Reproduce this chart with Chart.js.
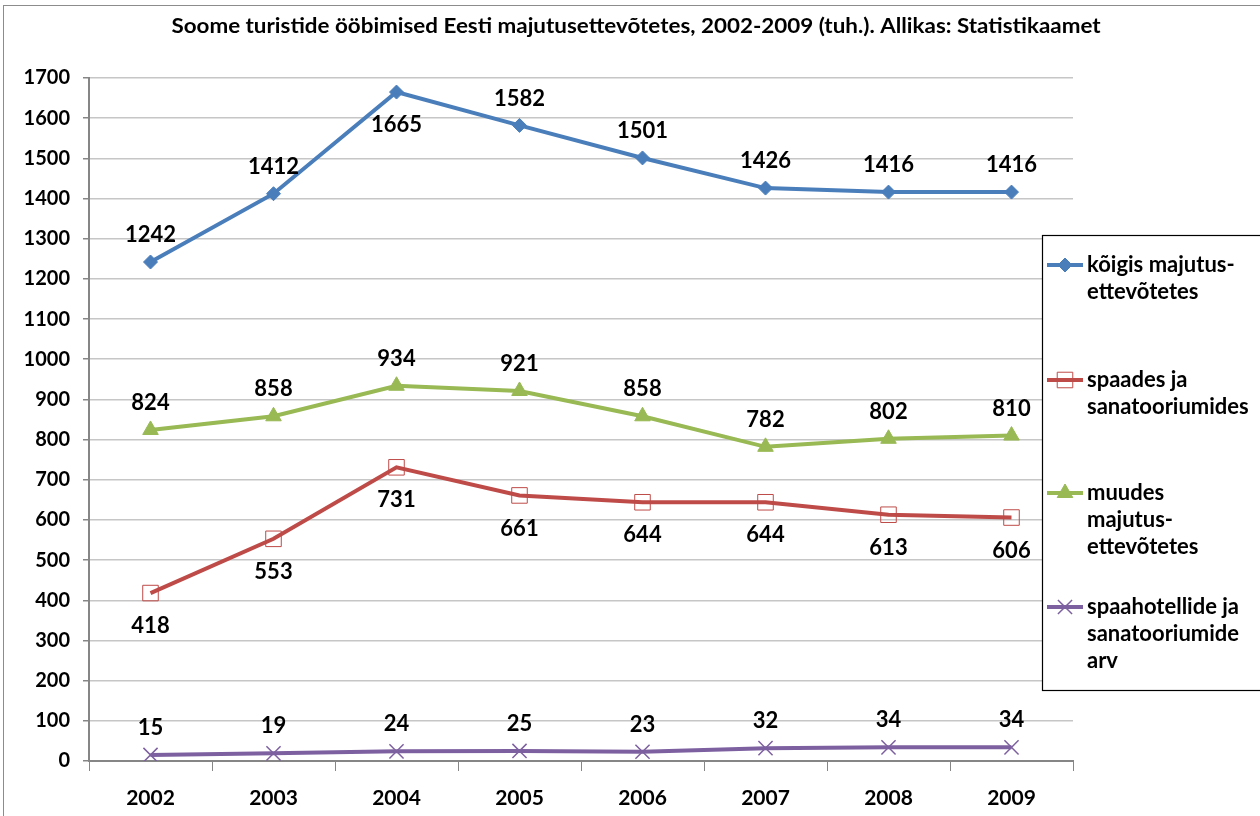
<!DOCTYPE html>
<html>
<head>
<meta charset="utf-8">
<script src="https://cdn.jsdelivr.net/npm/chart.js@4.4.1/dist/chart.umd.min.js"></script>
<style>
  html, body { margin: 0; padding: 0; background: #fff; }
  #wrap { position: relative; width: 1260px; height: 816px; overflow: hidden; }
  #frame { position: absolute; left: 3px; top: 5px; width: 1300px; height: 900px; border: 1.5px solid #8c8c8c; box-sizing: border-box; }
  canvas { position: absolute; left: 0; top: 0; }
</style>
</head>
<body>
<div id="wrap">
  <div id="frame"></div>
  <canvas id="c" width="1260" height="816"></canvas>
</div>
<script>
// andmed
const years = ['2002', '2003', '2004', '2005', '2006', '2007', '2008', '2009'];
const koigis = [1242, 1412, 1665, 1582, 1501, 1426, 1416, 1416];
const spaades = [418, 553, 731, 661, 644, 644, 613, 606];
const muudes = [824, 858, 934, 921, 858, 782, 802, 810];
const spaahotellid = [15, 19, 24, 25, 23, 32, 34, 34];
const yTicks = [0, 100, 200, 300, 400, 500, 600, 700, 800, 900, 1000, 1100, 1200, 1300, 1400, 1500, 1600, 1700];

const titleText = 'Soome turistide ööbimised Eesti majutusettevõtetes, 2002-2009 (tuh.). Allikas: Statistikaamet';
const FONT = 'Lato, "Open Sans", sans-serif';

// kus silt on punkti suhtes: 1 = üleval, -1 = all
const labelPos = [
  [1, 1, -1, 1, 1, 1, 1, 1],
  [-1, -1, -1, -1, -1, -1, -1, -1],
  [1, 1, 1, 1, 1, 1, 1, 1],
  [1, 1, 1, 1, 1, 1, 1, 1]
];

const legendLines = [
  ['kõigis majutus-', 'ettevõtetes'],
  ['spaades ja', 'sanatooriumides'],
  ['muudes', 'majutus-', 'ettevõtetes'],
  ['spaahotellide ja', 'sanatooriumide', 'arv']
];
const legendTop = [265, 380, 493, 607];

const extras = {
  id: 'extras',
  afterDatasetsDraw(chart) {
    const ctx = chart.ctx;
    ctx.save();
    ctx.font = 'bold 22px ' + FONT;
    ctx.fillStyle = '#000';
    ctx.textAlign = 'center';
    ctx.textBaseline = 'middle';
    chart.data.datasets.forEach((ds, i) => {
      chart.getDatasetMeta(i).data.forEach((pt, j) => {
        const up = labelPos[i][j] > 0;
        ctx.fillText(String(ds.data[j]), pt.x, pt.y + (up ? -27 : 33));
      });
    });
    ctx.restore();
  },
  afterDraw(chart) {
    const ctx = chart.ctx;
    ctx.save();
    // pealkiri, veidi kitsendatud nagu Calibri
    ctx.font = 'bold 20px ' + FONT;
    ctx.fillStyle = '#000';
    ctx.textAlign = 'center';
    ctx.textBaseline = 'middle';
    ctx.translate(636, 27);
    ctx.scale(1.12, 1);
    ctx.fillText(titleText, 0, 0);
    ctx.setTransform(1, 0, 0, 1, 0, 0);

    // legend
    ctx.fillStyle = '#fff';
    ctx.fillRect(1042, 235, 230, 455);
    ctx.strokeStyle = '#000';
    ctx.lineWidth = 1.2;
    ctx.strokeRect(1042.5, 235.5, 230, 455);
    chart.data.datasets.forEach((ds, i) => {
      const y = legendTop[i];
      ctx.strokeStyle = ds.borderColor;
      ctx.lineWidth = 4;
      ctx.beginPath();
      ctx.moveTo(1047, y);
      ctx.lineTo(1083, y);
      ctx.stroke();
      ctx.fillStyle = ds.pointBackgroundColor;
      ctx.strokeStyle = ds.pointBorderColor;
      ctx.lineWidth = ds.pointBorderWidth;
      Chart.helpers.drawPoint(ctx, {
        pointStyle: ds.pointStyle, radius: ds.pointRadius,
        borderWidth: ds.pointBorderWidth, rotation: 0
      }, 1065, y);
      ctx.fillStyle = '#000';
      ctx.font = 'bold 22px ' + FONT;
      ctx.textAlign = 'left';
      legendLines[i].forEach((t, k) => ctx.fillText(t, 1087, y + k * 27));
    });
    ctx.restore();
  }
};

function series(label, data, color, style, radius, fill) {
  return {
    label, data,
    borderColor: color, borderWidth: 4,
    pointStyle: style, pointRadius: radius, pointHoverRadius: radius,
    pointBackgroundColor: fill || color, pointBorderColor: color,
    pointBorderWidth: style === 'crossRot' ? 1.5 : 1,
    tension: 0, fill: false
  };
}

new Chart(document.getElementById('c'), {
  type: 'line',
  data: {
    labels: years,
    datasets: [
      series('kõigis majutusettevõtetes', koigis, '#4a7ebb', 'rectRot', 7),
      series('spaades ja sanatooriumides', spaades, '#be4b48', 'rect', 11, 'rgba(0,0,0,0)'),
      series('muudes majutusettevõtetes', muudes, '#98b954', 'triangle', 9),
      series('spaahotellide ja sanatooriumide arv', spaahotellid, '#7d60a0', 'crossRot', 10)
    ]
  },
  options: {
    responsive: false,
    animation: false,
    layout: { padding: { left: 0, right: 187, top: 78, bottom: 0 } },
    plugins: { legend: { display: false }, title: { display: false }, tooltip: { enabled: false } },
    scales: {
      x: {
        offset: true,
        grid: { offset: true, drawOnChartArea: false, drawTicks: true, tickLength: 10, tickColor: '#868686' },
        border: { color: '#868686', width: 2 },
        ticks: { color: '#000', font: { family: FONT, size: 21, weight: 'bold' }, padding: 15 },
        afterFit(s) { s.height = 55; }
      },
      y: {
        min: 0, max: 1700,
        afterBuildTicks(s) { s.ticks = yTicks.map(v => ({ value: v })); },
        grid: { color: '#c6c6c6', lineWidth: 1.5, tickLength: 6, tickColor: '#868686' },
        border: { color: '#868686', width: 2 },
        ticks: { color: '#000', font: { family: FONT, size: 20, weight: 'bold' }, padding: 13, callback: v => String(v) },
        afterFit(s) { s.width = 89; }
      }
    }
  },
  plugins: [extras]
});
</script>
</body>
</html>
